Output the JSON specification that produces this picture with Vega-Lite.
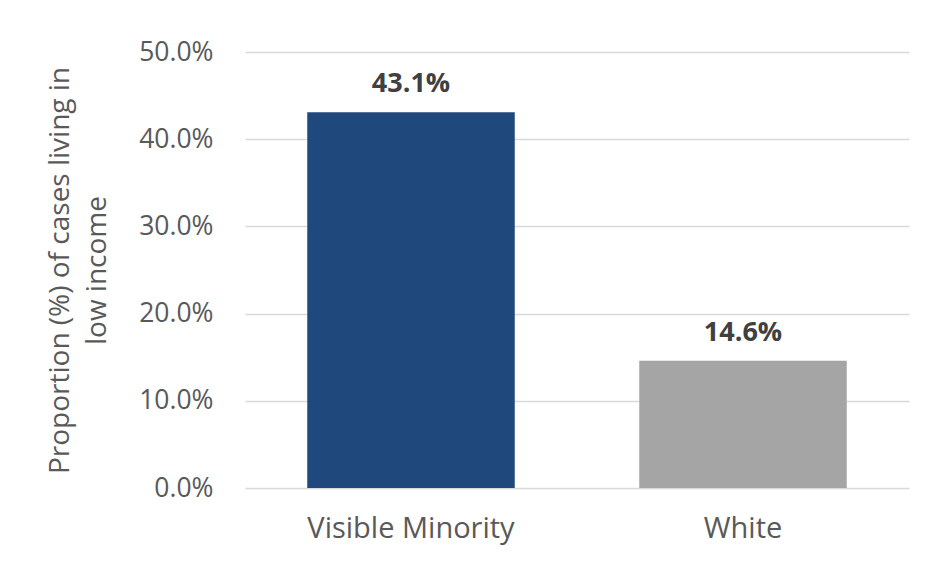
{
  "$schema": "https://vega.github.io/schema/vega-lite/v6.json",
  "width": 664,
  "height": 436,
  "autosize": {"type": "none"},
  "padding": {"left": 245, "top": 52, "right": 27, "bottom": 74},
  "background": "white",
  "config": {
    "view": {"stroke": null},
    "font": "Open Sans"
  },
  "data": {
    "values": [
      {"group": "Visible Minority", "value": 0.431},
      {"group": "White", "value": 0.146}
    ]
  },
  "encoding": {
    "x": {
      "field": "group",
      "type": "nominal",
      "sort": null,
      "scale": {"paddingInner": 0.375, "paddingOuter": 0.1875},
      "axis": {
        "title": null,
        "labelAngle": 0,
        "labelFont": "Open Sans",
        "labelFontSize": 29,
        "labelColor": "#595959",
        "labelBaseline": "alphabetic",
        "labelPadding": 49,
        "labelLimit": 0,
        "ticks": false,
        "domain": false,
        "grid": false
      }
    },
    "y": {
      "field": "value",
      "type": "quantitative",
      "scale": {"domain": [0, 0.5]},
      "axis": {
        "title": ["Proportion (%) of cases living in", "low income"],
        "titleFont": "Open Sans",
        "titleFontSize": 28,
        "titleFontWeight": "normal",
        "titleColor": "#595959",
        "titleLineHeight": 37,
        "titlePadding": 27,
        "values": [0, 0.1, 0.2, 0.3, 0.4, 0.5],
        "format": ".1%",
        "labelFont": "Open Sans",
        "labelFontSize": 26.5,
        "labelColor": "#595959",
        "labelPadding": 32,
        "ticks": false,
        "domain": false,
        "grid": true,
        "gridColor": "#D9D9D9",
        "gridWidth": 1.3
      }
    }
  },
  "layer": [
    {
      "mark": {"type": "bar"},
      "encoding": {
        "color": {
          "field": "group",
          "type": "nominal",
          "scale": {"domain": ["Visible Minority", "White"], "range": ["#1F487C", "#A5A5A5"]},
          "legend": null
        }
      }
    },
    {
      "mark": {
        "type": "text",
        "font": "Open Sans",
        "fontSize": 27,
        "fontWeight": "bold",
        "color": "#404040",
        "baseline": "alphabetic",
        "dy": -20
      },
      "encoding": {
        "text": {"field": "value", "type": "quantitative", "format": ".1%"}
      }
    }
  ]
}
